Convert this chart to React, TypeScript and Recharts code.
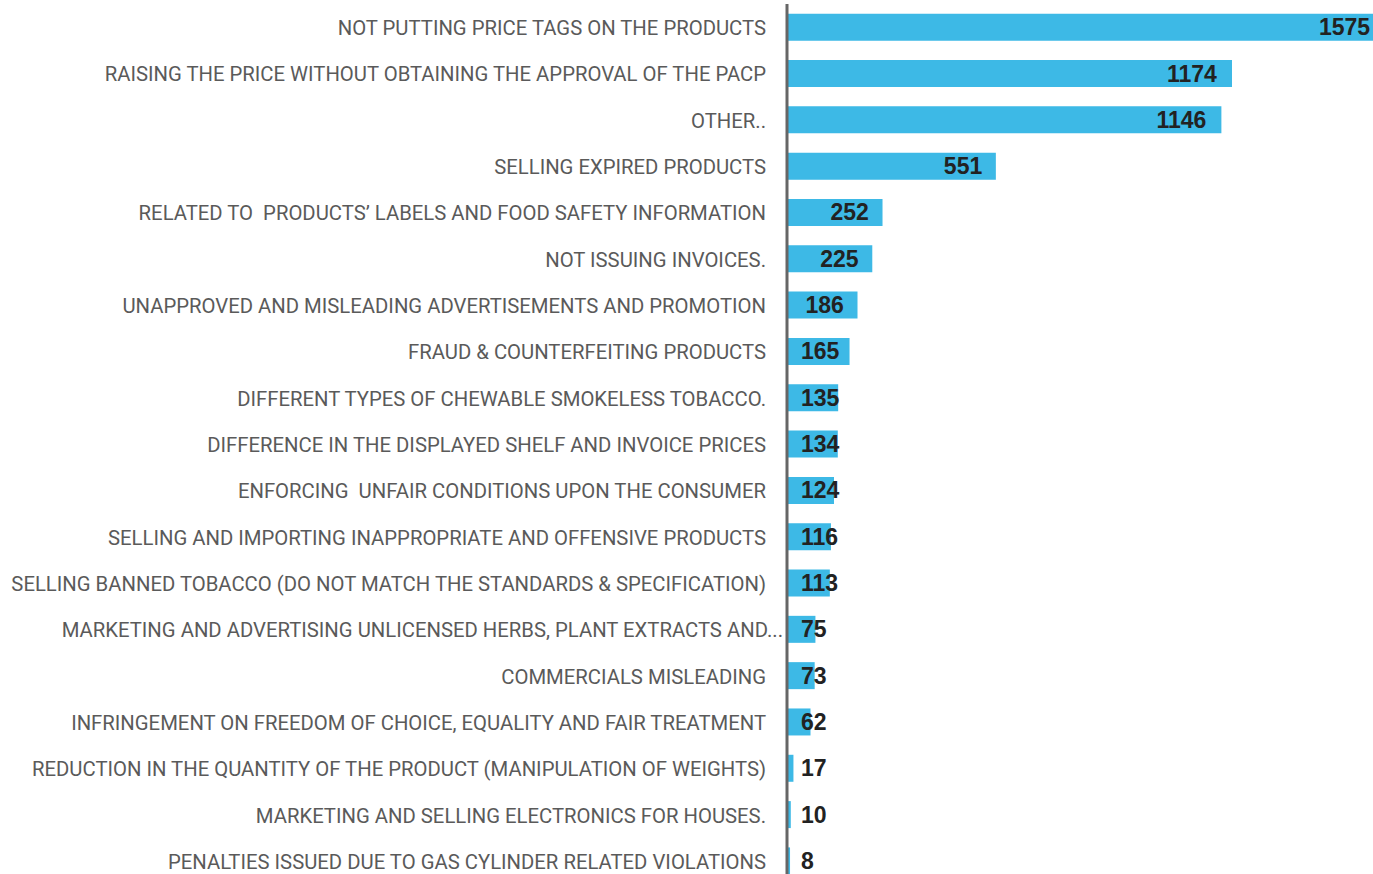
import React from 'react';
import { BarChart, Bar, XAxis, YAxis, LabelList } from 'recharts';

const categories: string[] = [
  'NOT PUTTING PRICE TAGS ON THE PRODUCTS',
  'RAISING THE PRICE WITHOUT OBTAINING THE APPROVAL OF THE PACP',
  'OTHER..',
  'SELLING EXPIRED PRODUCTS',
  'RELATED TO  PRODUCTS\u2019 LABELS AND FOOD SAFETY INFORMATION',
  'NOT ISSUING INVOICES.',
  'UNAPPROVED AND MISLEADING ADVERTISEMENTS AND PROMOTION',
  'FRAUD & COUNTERFEITING PRODUCTS',
  'DIFFERENT TYPES OF CHEWABLE SMOKELESS TOBACCO.',
  'DIFFERENCE IN THE DISPLAYED SHELF AND INVOICE PRICES',
  'ENFORCING  UNFAIR CONDITIONS UPON THE CONSUMER',
  'SELLING AND IMPORTING INAPPROPRIATE AND OFFENSIVE PRODUCTS',
  'SELLING BANNED TOBACCO (DO NOT MATCH THE STANDARDS & SPECIFICATION)',
  'MARKETING AND ADVERTISING UNLICENSED HERBS, PLANT EXTRACTS AND...',
  'COMMERCIALS MISLEADING',
  'INFRINGEMENT ON FREEDOM OF CHOICE, EQUALITY AND FAIR TREATMENT',
  'REDUCTION IN THE QUANTITY OF THE PRODUCT (MANIPULATION OF WEIGHTS)',
  'MARKETING AND SELLING ELECTRONICS FOR HOUSES.',
  'PENALTIES ISSUED DUE TO GAS CYLINDER RELATED VIOLATIONS',
];

const violations: number[] = [1575, 1174, 1146, 551, 252, 225, 186, 165, 135, 134, 124, 116, 113, 75, 73, 62, 17, 10, 8];

const data = categories.map((name, i) => ({ name, value: violations[i] }));

const ValueLabel = (props: any) => {
  const { x, y, width, height, value } = props;
  const textW = String(value).length * 13;
  const left = Math.max(x + 14, x + width - 13 - textW);
  return (
    <text
      x={left}
      y={y + height / 2}
      dy={8}
      textAnchor="start"
      fill="#222222"
      fontFamily="'Liberation Sans', Arial, sans-serif"
      fontWeight={700}
      fontSize={23}
    >
      {value}
    </text>
  );
};

const CategoryTick = (props: any) => {
  const { x, y, payload } = props;
  const label: string = payload.value;
  const shift = label.endsWith('...') ? 17 : 0;
  return (
    <text
      x={x + shift}
      y={y}
      dy={8}
      textAnchor="end"
      fill="#5a5a5a"
      fontFamily="Roboto, 'Liberation Sans', sans-serif"
      fontSize={20.3}
      xmlSpace="preserve"
      style={{ whiteSpace: 'pre' }}
    >
      {label}
    </text>
  );
};

export default function App() {
  return (
    <div style={{ position: 'absolute', left: 0, top: 0, width: 1373, height: 874, overflow: 'hidden', background: '#fff' }}>
      <BarChart
        width={1384}
        height={884}
        data={data}
        layout="vertical"
        margin={{ top: 4, right: 0, bottom: 0, left: 0 }}
        barCategoryGap="21%"
      >
        <XAxis type="number" hide domain={[0, 1575]} />
        <YAxis
          type="category"
          dataKey="name"
          width={787}
          interval={0}
          tickLine={false}
          tickSize={6}
          tickMargin={15}
          axisLine={{ stroke: '#666666', strokeWidth: 3 }}
          tick={<CategoryTick />}
        />
        <Bar dataKey="value" fill="#3db9e6" isAnimationActive={false}>
          <LabelList dataKey="value" content={<ValueLabel />} />
        </Bar>
      </BarChart>
    </div>
  );
}
